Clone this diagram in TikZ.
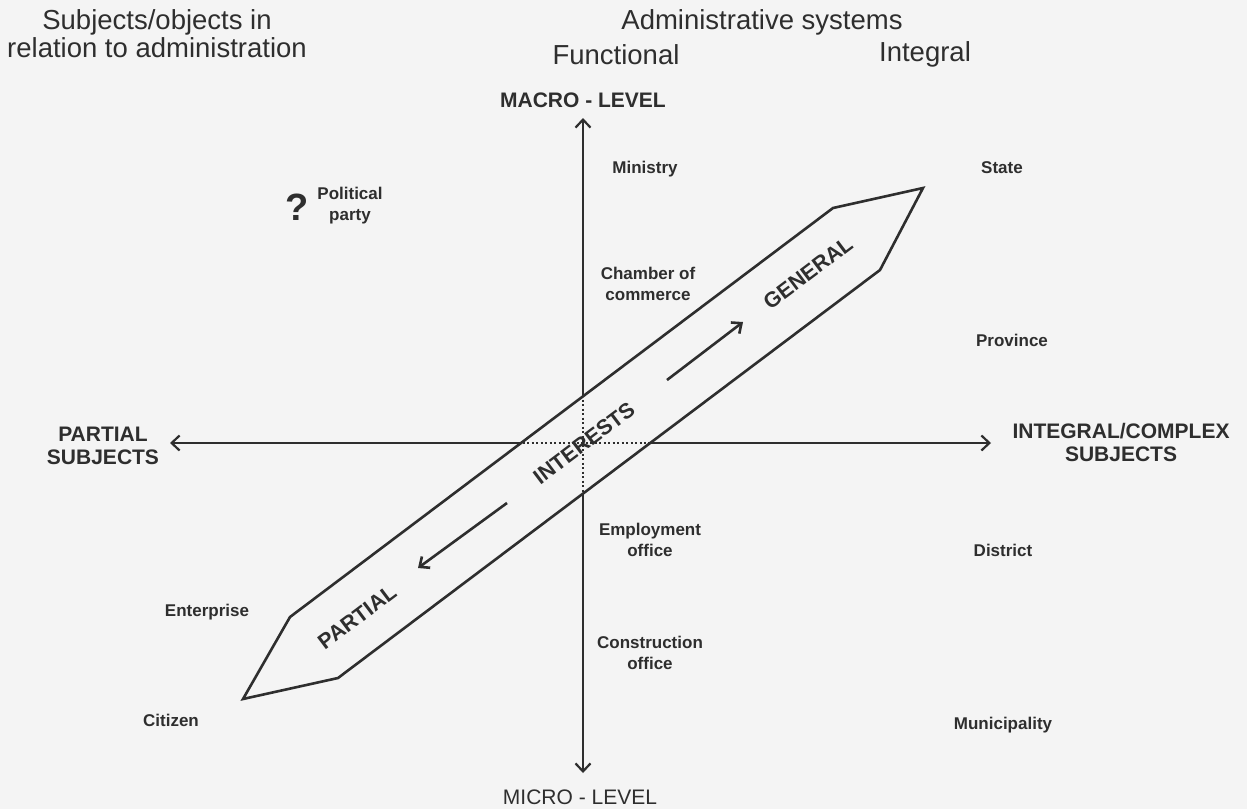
\documentclass[tikz,border=0pt]{standalone}
\usepackage{fontspec}
\setmainfont{Liberation Sans}
\usetikzlibrary{arrows.meta}
\definecolor{ink}{HTML}{2E2E2E}
\definecolor{paper}{HTML}{F4F4F4}
\tikzset{
  title/.style={font=\fontsize{27.5}{28}\selectfont, text=ink, align=center, inner sep=0pt},
  axislbl/.style={font=\bfseries\fontsize{21}{23}\selectfont, text=ink, align=center, inner sep=0pt},
  levellbl/.style={font=\fontsize{21}{23}\selectfont, text=ink, align=center, inner sep=0pt},
  item/.style={font=\bfseries\fontsize{17}{21}\selectfont, text=ink, align=center, inner sep=0pt},
  bandlbl/.style={font=\bfseries\fontsize{21.5}{23}\selectfont, text=ink, inner sep=0pt, rotate=37},
  axisline/.style={draw=ink, line width=2.2pt, -{Straight Barb[length=8pt,width=15pt,line width=2.2pt]}},
  dotline/.style={draw=ink, line width=2pt, dash pattern=on 2pt off 2.5pt},
  bandline/.style={draw=ink, line width=2.6pt, line join=miter},
  flowline/.style={draw=ink, line width=2.6pt, -{Straight Barb[length=8pt,width=14pt,line width=2.6pt]}}
}
\begin{document}
\begin{tikzpicture}[x=1pt,y=-1pt]
\fill[paper] (0,0) rectangle (1247,809);
\useasboundingbox (0,0) rectangle (1247,809);

% headings
\node[title] (subj) at (157,34) {Subjects/objects in\\relation to administration};
\node[title] (admin) at (762,22) {Administrative systems};
\node[title] (func) at (616,55) {Functional};
\node[title] (integ) at (925,54) {Integral};

% axis coordinates
\coordinate (vtop) at (583,118);
\coordinate (vbot) at (583,773);
\coordinate (vup) at (583,395);
\coordinate (vdn) at (583,493);
\coordinate (hleft) at (170,443);
\coordinate (hright) at (991,443);
\coordinate (hl) at (518,443);
\coordinate (hr) at (648,443);

\draw[axisline] (vup) -- (vtop);
\draw[axisline] (vdn) -- (vbot);
\draw[axisline] (hl) -- (hleft);
\draw[axisline] (hr) -- (hright);
\draw[dotline] (vup) -- (vdn);
\draw[dotline] (hl) -- (hr);

% axis labels
\node[axislbl] (macro) at (583,100) {MACRO - LEVEL};
\node[levellbl] (micro) at (580,797) {MICRO - LEVEL};
\node[axislbl] (partsub) at (103,446) {PARTIAL\\SUBJECTS};
\node[axislbl] (intsub) at (1121,442) {INTEGRAL/COMPLEX\\SUBJECTS};

% band
\coordinate (tipR) at (923,188);
\coordinate (cUR) at (833,208);
\coordinate (cLR) at (880,270);
\coordinate (tipL) at (243,699);
\coordinate (cUL) at (290,617);
\coordinate (cLL) at (338,678);
\draw[bandline] (cUL) -- (cUR) -- (tipR) -- (cLR) -- (cLL) -- (tipL) -- cycle;

% flow arrows in band
\coordinate (gs) at (667,380);
\coordinate (ge) at (743,322);
\coordinate (ps) at (507,503);
\coordinate (pe) at (418,568);
\draw[flowline] (gs) -- (ge);
\draw[flowline] (ps) -- (pe);

% band labels
\node[bandlbl] (general) at (808,273) {GENERAL};
\node[bandlbl] (interests) at (584,443) {INTERESTS};
\node[bandlbl] (partial) at (357,617) {PARTIAL};

% items
\node[item] (ministry) at (645,169) {Ministry};
\node[item] (state) at (1002,168) {State};
\node[font=\bfseries\fontsize{38}{40}\selectfont, text=ink, inner sep=0pt] (q) at (297,207) {?};
\node[item] (party) at (350,206) {Political\\party};
\node[item] (chamber) at (648,284) {Chamber of\\commerce};
\node[item] (province) at (1012,340) {Province};
\node[item] (employ) at (650,540) {Employment\\office};
\node[item] (district) at (1003,550) {District};
\node[item] (enterprise) at (207,612) {Enterprise};
\node[item] (construct) at (650,653) {Construction\\office};
\node[item] (citizen) at (171,720) {Citizen};
\node[item] (municip) at (1003,725) {Municipality};
\end{tikzpicture}
\end{document}
